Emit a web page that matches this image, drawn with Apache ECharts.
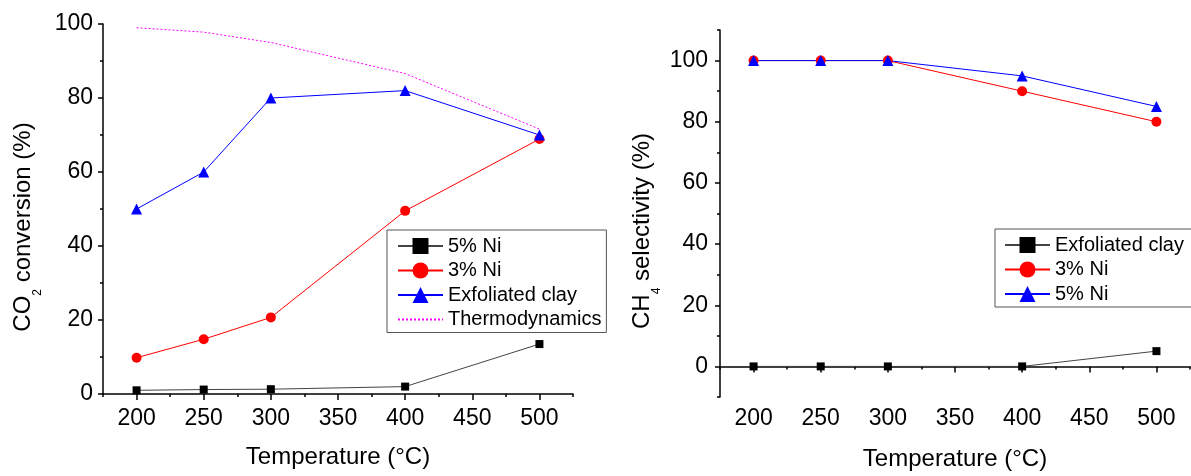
<!DOCTYPE html>
<html>
<head>
<meta charset="utf-8">
<script src="https://cdn.jsdelivr.net/npm/echarts@6.0.0/dist/echarts.min.js"></script>
<style>
html, body { margin: 0; padding: 0; background: #fff; }
#chart { width: 1191px; height: 476px; }
</style>
</head>
<body>
<div id="chart"></div>
<script>
const temps = [200, 250, 300, 400, 500]
// left panel: CO2 conversion (%)
const convNi5 = [1, 1.2, 1.3, 2, 13.5]
const convNi3 = [9.8, 14.8, 20.7, 49.5, 68.9]
const convClay = [50, 60, 80, 82, 70]
const convThermo = [99, 97.8, 95, 86.6, 71.6]
// right panel: CH4 selectivity (%)
const selClay = [0, 0, 0, 0, 5]
const selNi3 = [100, 100, 100, 90, 80]
const selNi5 = [100, 100, 100, 95, 85]
// tick labels
const xTicks = [200, 250, 300, 350, 400, 450, 500]
const convTicks = [0, 20, 40, 60, 80, 100]
const selTicks = [0, 20, 40, 60, 80, 100]

const font = 'Liberation Sans, Arial, sans-serif'
const ink = '#000'

function pairs (ys) {
  return temps.map((t, i) => [t, ys[i]])
}

function xAxisOf (gridIndex, margin, nameGap) {
  // ticks every 50 from 175 are the short ones, minor ticks fall on 200, 250...
  return {
    type: 'value',
    gridIndex: gridIndex,
    min: 175,
    max: 525,
    interval: 50,
    name: 'Temperature (°C)',
    nameLocation: 'middle',
    nameGap: nameGap,
    nameTextStyle: { fontFamily: font, fontSize: 24, color: ink },
    axisLine: { lineStyle: { color: ink, width: 1.5 } },
    axisTick: { length: 3, lineStyle: { color: ink, width: 1.5 } },
    minorTick: { show: true, splitNumber: 2, length: 6, lineStyle: { color: ink, width: 1.5 } },
    axisLabel: { customValues: xTicks, margin: margin, fontFamily: font, fontSize: 23, color: ink },
    splitLine: { show: false },
    minorSplitLine: { show: false }
  }
}

function yName (main, sub, rest) {
  return '{t|' + main + '}{s|' + sub + '}{t|' + rest + '}'
}

const nameRich = {
  t: { fontFamily: font, fontSize: 24, color: ink },
  s: { fontFamily: font, fontSize: 12, color: ink, padding: [30, 0, 0, 0] }
}

const option = {
  backgroundColor: '#fff',
  animation: false,
  grid: [
    { left: 103, top: 24, width: 470, height: 370 },
    { left: 720, top: 30, width: 470, height: 371 }
  ],
  xAxis: [xAxisOf(0, 13, 51), xAxisOf(1, 10, 50)],
  yAxis: [{
    type: 'value',
    gridIndex: 0,
    min: 0,
    max: 100,
    interval: 20,
    name: yName('CO', '2', ' conversion (%)'),
    nameLocation: 'middle',
    nameRotate: 90,
    nameGap: 59,
    nameTextStyle: { fontFamily: font, fontSize: 24, color: ink, padding: [0, 36, 0, 0], rich: nameRich },
    axisLine: { show: true, lineStyle: { color: ink, width: 1.5 } },
    axisTick: { show: true, length: 5, lineStyle: { color: ink, width: 1.5 } },
    minorTick: { show: true, splitNumber: 2, length: 3, lineStyle: { color: ink, width: 1.5 } },
    axisLabel: { customValues: convTicks, margin: 10, fontFamily: font, fontSize: 23, color: ink },
    splitLine: { show: false }
  }, {
    type: 'value',
    gridIndex: 1,
    min: -10,
    max: 110,
    interval: 20,
    name: yName('CH', '4', ' selectivity (%)'),
    nameLocation: 'middle',
    nameRotate: 90,
    nameGap: 57,
    nameTextStyle: { fontFamily: font, fontSize: 24, color: ink, padding: [0, 35, 0, 0], rich: nameRich },
    axisLine: { show: true, lineStyle: { color: ink, width: 1.5 } },
    axisTick: { show: true, length: 3, lineStyle: { color: ink, width: 1.5 } },
    minorTick: { show: true, splitNumber: 2, length: 5, lineStyle: { color: ink, width: 1.5 } },
    axisLabel: { customValues: selTicks, margin: 12, fontFamily: font, fontSize: 23, color: ink },
    splitLine: { show: false }
  }],
  legend: [{
    data: ['5% Ni', '3% Ni', 'Exfoliated clay', 'Thermodynamics'],
    orient: 'vertical',
    left: 387,
    top: 230,
    itemWidth: 45,
    itemHeight: 20,
    itemGap: 4.5,
    padding: [6, 5, 3, 10],
    borderColor: '#555',
    borderWidth: 1,
    selectedMode: false,
    textStyle: { fontFamily: font, fontSize: 20, color: ink },
    formatter: n => n.trim()
  }, {
    // right panel names carry a trailing space so each legend finds its own series
    data: ['Exfoliated clay ', '3% Ni ', '5% Ni '],
    orient: 'vertical',
    left: 995,
    top: 229,
    itemWidth: 45,
    itemHeight: 20,
    itemGap: 4.5,
    padding: [6, 30, 3, 9],
    borderColor: '#555',
    borderWidth: 1,
    selectedMode: false,
    textStyle: { fontFamily: font, fontSize: 20, color: ink },
    formatter: n => n.trim()
  }],
  series: [{
    name: '5% Ni',
    type: 'line',
    xAxisIndex: 0,
    yAxisIndex: 0,
    data: pairs(convNi5),
    symbol: 'rect',
    symbolSize: 8,
    itemStyle: { color: '#000' },
    lineStyle: { color: '#444', width: 1 }
  }, {
    name: '3% Ni',
    type: 'line',
    xAxisIndex: 0,
    yAxisIndex: 0,
    data: pairs(convNi3),
    symbol: 'circle',
    symbolSize: 10,
    itemStyle: { color: '#ff0000' },
    lineStyle: { color: '#ff0000', width: 1 }
  }, {
    name: 'Exfoliated clay',
    type: 'line',
    xAxisIndex: 0,
    yAxisIndex: 0,
    data: pairs(convClay),
    symbol: 'triangle',
    symbolSize: 11,
    itemStyle: { color: '#0000ff' },
    lineStyle: { color: '#0000ff', width: 1 }
  }, {
    name: 'Thermodynamics',
    type: 'line',
    xAxisIndex: 0,
    yAxisIndex: 0,
    data: pairs(convThermo),
    symbol: 'none',
    // transparent fill keeps the legend icon a bare dotted line
    itemStyle: { color: 'rgba(0,0,0,0)', borderWidth: 0 },
    lineStyle: { color: '#ff00ff', width: 1, type: [2, 2] }
  }, {
    name: 'Exfoliated clay ',
    type: 'line',
    xAxisIndex: 1,
    yAxisIndex: 1,
    data: pairs(selClay),
    symbol: 'rect',
    symbolSize: 8,
    itemStyle: { color: '#000' },
    lineStyle: { color: '#444', width: 1 }
  }, {
    name: '3% Ni ',
    type: 'line',
    xAxisIndex: 1,
    yAxisIndex: 1,
    data: pairs(selNi3),
    symbol: 'circle',
    symbolSize: 10,
    itemStyle: { color: '#ff0000' },
    lineStyle: { color: '#ff0000', width: 1 }
  }, {
    name: '5% Ni ',
    type: 'line',
    xAxisIndex: 1,
    yAxisIndex: 1,
    data: pairs(selNi5),
    symbol: 'triangle',
    symbolSize: 11,
    itemStyle: { color: '#0000ff' },
    lineStyle: { color: '#0000ff', width: 1 }
  }]
}

const chart = echarts.init(document.getElementById('chart'))
chart.setOption(option)
</script>
</body>
</html>
